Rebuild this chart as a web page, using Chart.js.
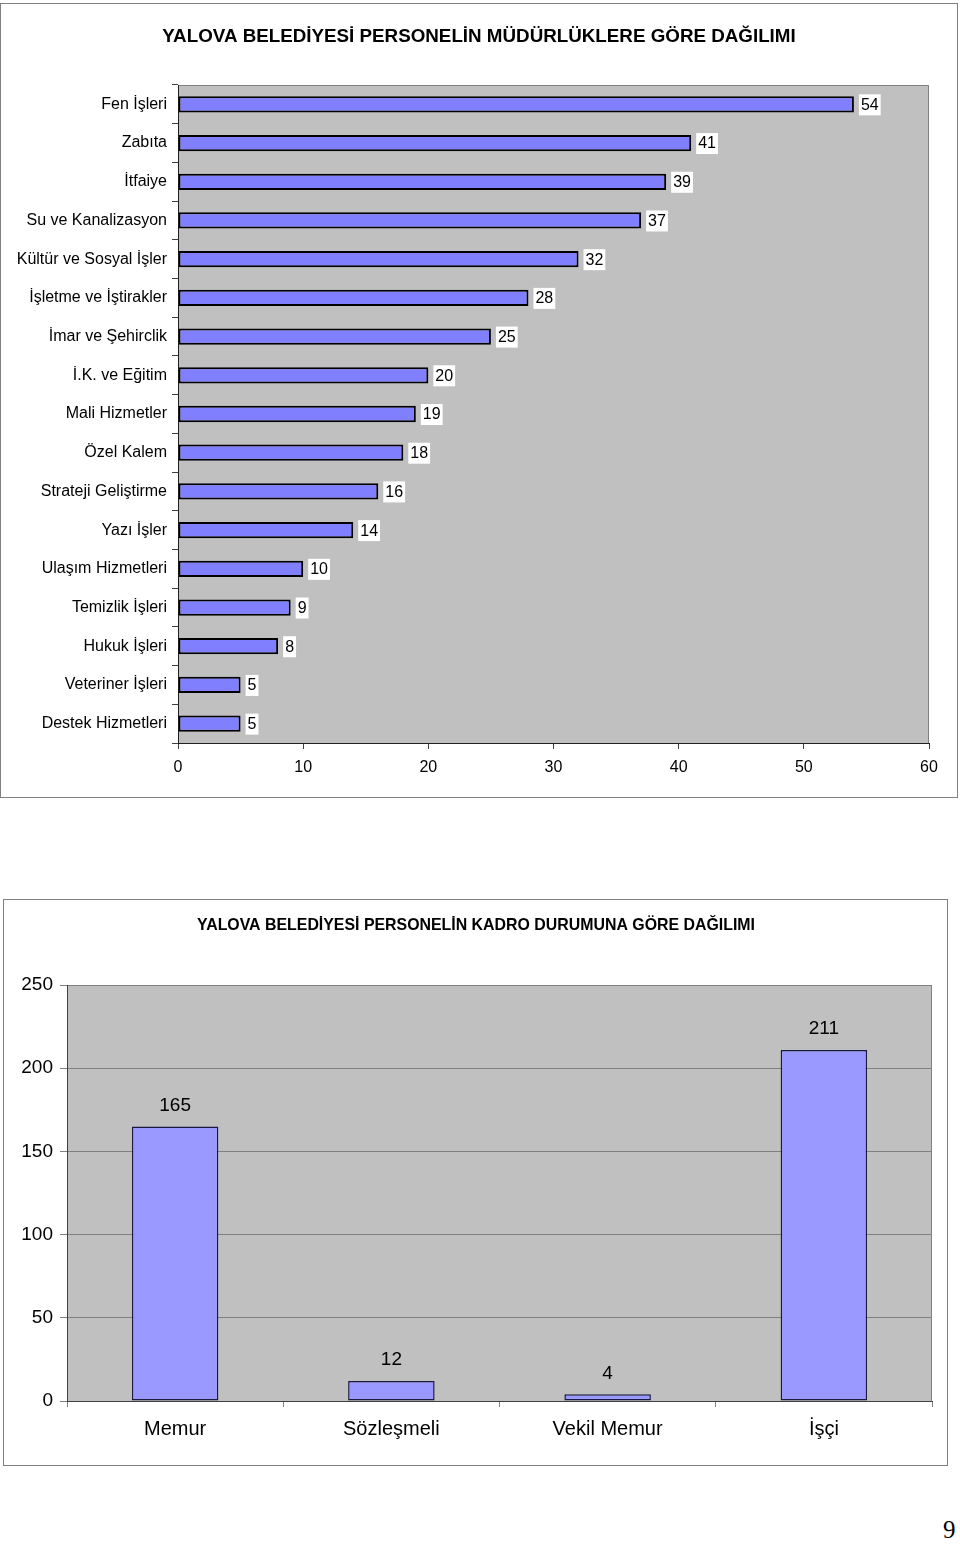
<!DOCTYPE html>
<html>
<head>
<meta charset="utf-8">
<script src="https://cdn.jsdelivr.net/npm/chart.js@4"></script>
<style>
body { margin: 0; background: #fff; width: 960px; height: 1547px; position: relative; overflow: hidden; }
canvas { position: absolute; left: 0; }
.cerceve { position: absolute; border: 1px solid #808080; box-sizing: border-box; pointer-events: none; }
#sayfa { position: absolute; left: 943px; top: 1516px; font: 25px "Liberation Serif", "DejaVu Serif", serif; color: #000; }
</style>
</head>
<body>
<canvas id="chartMudurluk" width="960" height="800" style="top:0"></canvas>
<div class="cerceve" style="left:0;top:3px;width:958px;height:795px"></div>
<canvas id="chartKadro" width="960" height="600" style="top:890px"></canvas>
<div class="cerceve" style="left:3px;top:899px;width:945px;height:567px"></div>
<div id="sayfa">9</div>
<script>
// Grafik 1 verileri
const mudurlukler = ['Fen İşleri', 'Zabıta', 'İtfaiye', 'Su ve Kanalizasyon', 'Kültür ve Sosyal İşler',
    'İşletme ve İştirakler', 'İmar ve Şehirclik', 'İ.K. ve Eğitim', 'Mali Hizmetler', 'Özel Kalem',
    'Strateji Geliştirme', 'Yazı İşler', 'Ulaşım Hizmetleri', 'Temizlik İşleri', 'Hukuk İşleri',
    'Veteriner İşleri', 'Destek Hizmetleri'];
const personelSayisi = [54, 41, 39, 37, 32, 28, 25, 20, 19, 18, 16, 14, 10, 9, 8, 5, 5];
const eksen1Degerleri = [0, 10, 20, 30, 40, 50, 60];

// Grafik 2 verileri
const kadroTurleri = ['Memur', 'Sözleşmeli', 'Vekil Memur', 'İşçi'];
const kadroSayisi = [165, 12, 4, 211];
const eksen2Degerleri = [0, 50, 100, 150, 200, 250];

Chart.defaults.font.family = '"Liberation Sans", Arial, sans-serif';
Chart.defaults.color = '#000';

// Gri çizim alanı
const arkaPlan = {
    id: 'arkaPlan',
    beforeDraw(chart) {
        const ctx = chart.ctx;
        const a = chart.chartArea;
        ctx.save();
        ctx.fillStyle = '#c0c0c0';
        ctx.fillRect(a.left, a.top, a.right - a.left, a.bottom - a.top);
        ctx.strokeStyle = '#808080';
        ctx.lineWidth = 1;
        ctx.beginPath();
        ctx.moveTo(a.left, a.top + 0.5);
        ctx.lineTo(a.right - 0.5, a.top + 0.5);
        ctx.lineTo(a.right - 0.5, a.bottom);
        ctx.stroke();
        ctx.restore();
    }
};

// Başlık (çerçeveye göre ortalı)
const baslik = {
    id: 'baslik',
    afterDraw(chart, args, o) {
        const ctx = chart.ctx;
        ctx.save();
        ctx.font = o.font;
        ctx.fillStyle = '#000';
        ctx.textAlign = 'center';
        ctx.textBaseline = 'middle';
        ctx.fillText(o.text, o.x, o.y);
        ctx.restore();
    }
};

// Çubuk değer etiketleri
const degerEtiket = {
    id: 'degerEtiket',
    afterDatasetsDraw(chart, args, opts) {
        const ctx = chart.ctx;
        const veri = chart.data.datasets[0].data;
        ctx.save();
        ctx.font = opts.font;
        chart.getDatasetMeta(0).data.forEach(function(bar, i) {
            const metin = String(veri[i]);
            if (opts.yatay) {
                const w = ctx.measureText(metin).width;
                const x = bar.x + 7;
                ctx.fillStyle = '#fff';
                ctx.fillRect(x - 2, bar.y - 10, w + 4, 21);
                ctx.fillStyle = '#000';
                ctx.textAlign = 'left';
                ctx.textBaseline = 'middle';
                ctx.fillText(metin, x, bar.y + 1);
            } else {
                ctx.fillStyle = '#000';
                ctx.textAlign = 'center';
                ctx.textBaseline = 'middle';
                ctx.fillText(metin, bar.x, bar.y - 21);
            }
        });
        ctx.restore();
    }
};

new Chart(document.getElementById('chartMudurluk'), {
    type: 'bar',
    data: {
        labels: mudurlukler,
        datasets: [{
            data: personelSayisi,
            backgroundColor: '#8080ff',
            borderColor: '#000',
            borderWidth: 2,
            borderSkipped: false,
            categoryPercentage: 1,
            barPercentage: 0.42
        }]
    },
    options: {
        indexAxis: 'y',
        responsive: false,
        animation: false,
        layout: { padding: { left: 0, right: 31, top: 85, bottom: 0 } },
        plugins: {
            legend: { display: false },
            tooltip: { enabled: false },
            baslik: {
                text: 'YALOVA BELEDİYESİ PERSONELİN MÜDÜRLÜKLERE GÖRE DAĞILIMI',
                font: 'bold 18.8px "Liberation Sans", Arial, sans-serif',
                x: 479, y: 37.3
            },
            degerEtiket: { yatay: true, font: '16px "Liberation Sans", Arial, sans-serif' }
        },
        scales: {
            x: {
                min: eksen1Degerleri[0],
                max: eksen1Degerleri[eksen1Degerleri.length - 1],
                ticks: { stepSize: eksen1Degerleri[1] - eksen1Degerleri[0], font: { size: 16 }, padding: 9, autoSkip: false, maxRotation: 0 },
                grid: { drawOnChartArea: false, tickLength: 6, color: '#404040' },
                border: { color: '#202020' },
                afterFit(s) { s.height = 57; }
            },
            y: {
                ticks: { font: { size: 16 }, padding: 5, autoSkip: false },
                grid: { offset: true, drawOnChartArea: false, tickLength: 6, color: '#404040' },
                border: { color: '#202020' },
                afterFit(s) { s.width = 178; }
            }
        }
    },
    plugins: [arkaPlan, degerEtiket, baslik]
});

new Chart(document.getElementById('chartKadro'), {
    type: 'bar',
    data: {
        labels: kadroTurleri,
        datasets: [{
            data: kadroSayisi,
            backgroundColor: '#9999ff',
            borderColor: '#1a1a40',
            borderWidth: 1.5,
            borderSkipped: false,
            categoryPercentage: 1,
            barPercentage: 0.4
        }]
    },
    options: {
        responsive: false,
        animation: false,
        layout: { padding: { left: 0, right: 28, top: 95, bottom: 0 } },
        plugins: {
            legend: { display: false },
            tooltip: { enabled: false },
            baslik: {
                text: 'YALOVA BELEDİYESİ PERSONELİN KADRO DURUMUNA GÖRE DAĞILIMI',
                font: 'bold 15.9px "Liberation Sans", Arial, sans-serif',
                x: 476, y: 35.5
            },
            degerEtiket: { yatay: false, font: '19px "Liberation Sans", Arial, sans-serif' }
        },
        scales: {
            x: {
                ticks: { font: { size: 20 }, padding: 10, maxRotation: 0 },
                grid: { offset: true, drawOnChartArea: false, tickLength: 6, color: '#808080' },
                border: { color: '#404040' },
                afterFit(s) { s.height = 89; }
            },
            y: {
                min: eksen2Degerleri[0],
                max: eksen2Degerleri[eksen2Degerleri.length - 1],
                ticks: { stepSize: eksen2Degerleri[1] - eksen2Degerleri[0], font: { size: 19 }, padding: 7 },
                grid: { color: '#808080', tickLength: 7 },
                border: { color: '#404040' },
                afterFit(s) { s.width = 67; }
            }
        }
    },
    plugins: [arkaPlan, degerEtiket, baslik]
});
</script>
</body>
</html>
